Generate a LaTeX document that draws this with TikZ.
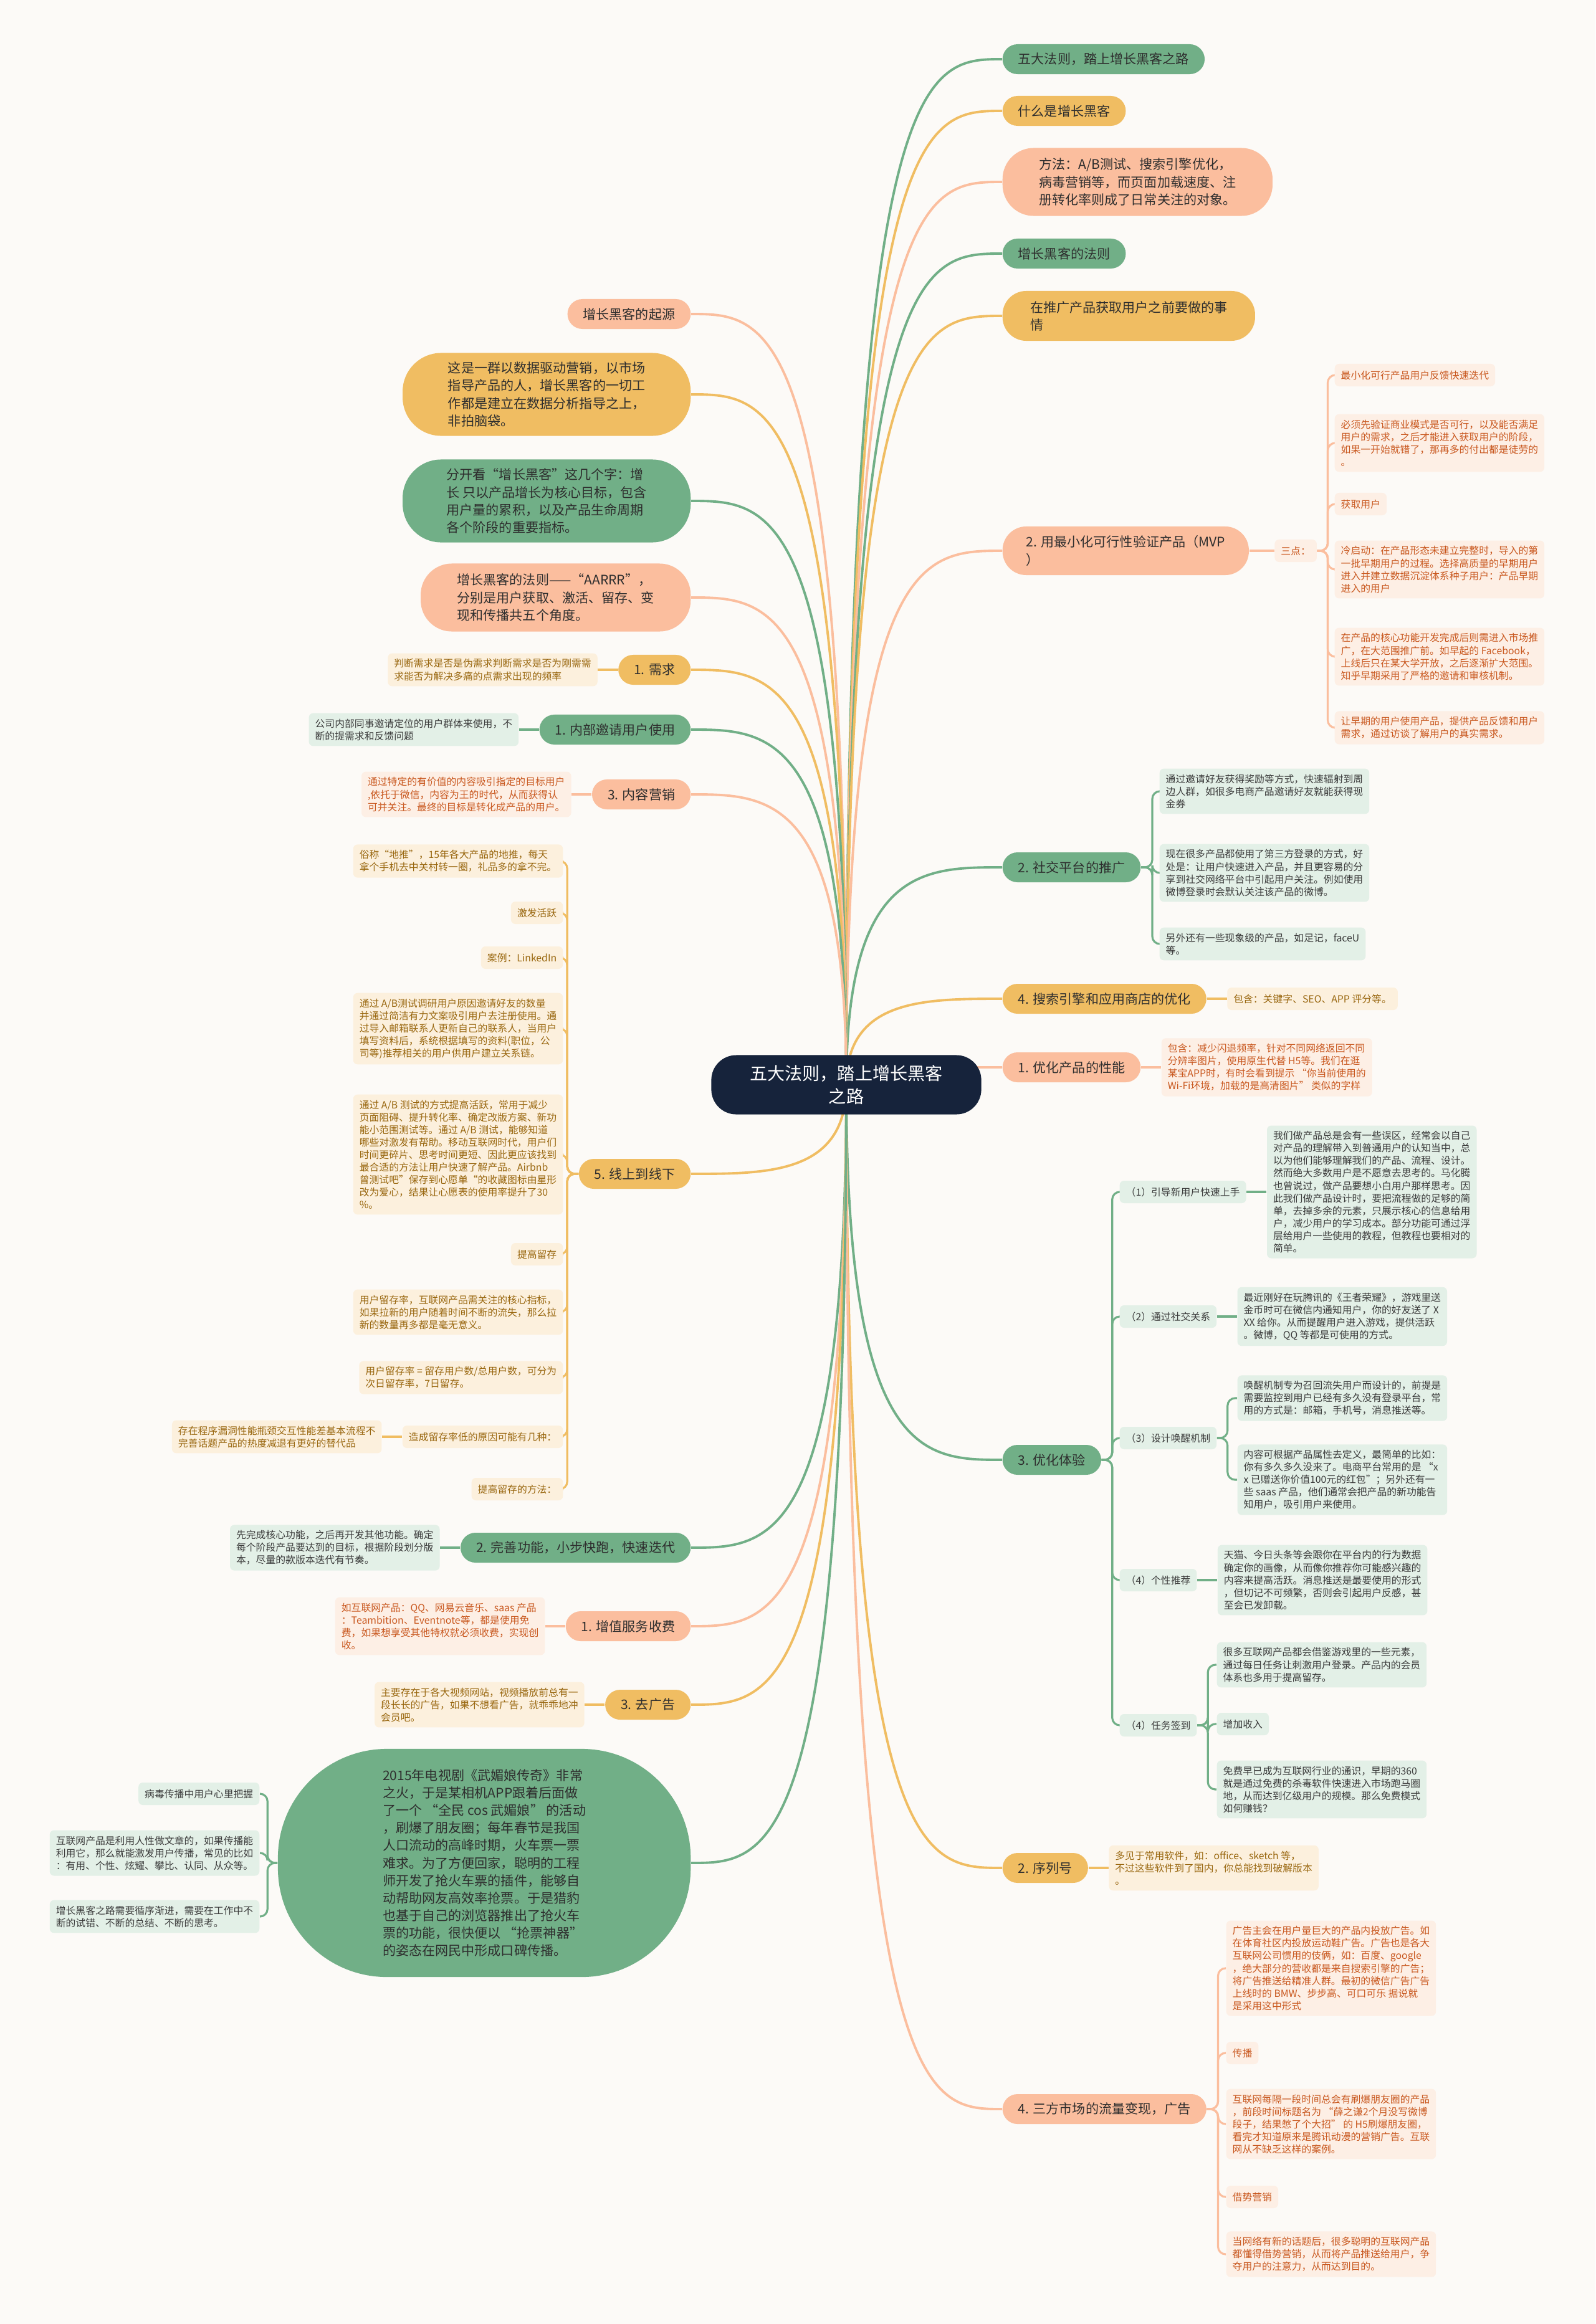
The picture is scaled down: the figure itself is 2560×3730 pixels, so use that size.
\documentclass[tikz,border=0pt]{standalone}
\usepackage{fontspec}
\setmainfont{Noto Sans CJK SC}
\usetikzlibrary{positioning,calc}

\definecolor{bgcol}{HTML}{FCFAF7}
\definecolor{rootcol}{HTML}{16233B}
\definecolor{gfill}{HTML}{71AF87}
\definecolor{yfill}{HTML}{F0BD62}
\definecolor{sfill}{HTML}{FBBE9E}
\definecolor{gsoft}{HTML}{E3F0E7}
\definecolor{ysoft}{HTML}{FCF0DD}
\definecolor{ssoft}{HTML}{FDEFE5}
\definecolor{gink}{HTML}{3B3B3B}
\definecolor{yink}{HTML}{99670F}
\definecolor{sink}{HTML}{C9581F}
\definecolor{darkink}{HTML}{2E2E2E}

\pgfdeclarelayer{background}
\pgfsetlayers{background,main}

\tikzset{
    rootbox/.style={
           fill=rootcol, text=white,
           rounded corners=0.4cm,
           minimum width=4.33cm, minimum height=0.95cm,
           align=center,
           font=\fontsize{8}{10.5}\selectfont
           },
    topic/.style={
           text=darkink,
           inner xsep=0.25cm, inner ysep=0.1cm,
           minimum height=0.48cm,
           rounded corners=0.24cm,
           align=left,
           font=\fontsize{6}{8}\selectfont
           },
    gtopic/.style={topic, fill=gfill},
    ytopic/.style={topic, fill=yfill},
    stopic/.style={topic, fill=sfill},
    leaf/.style={
           inner xsep=0.1cm, inner ysep=0.09cm,
           minimum height=0.36cm,
           rounded corners=0.07cm,
           align=left,
           font=\fontsize{4.5}{5.7}\selectfont
           },
    gleaf/.style={leaf, fill=gsoft, text=gink},
    yleaf/.style={leaf, fill=ysoft, text=yink},
    sleaf/.style={leaf, fill=ssoft, text=sink},
    gline/.style={draw=gfill, line width=1.1pt},
    yline/.style={draw=yfill, line width=1.1pt},
    sline/.style={draw=sfill, line width=1.1pt},
    twig/.style={line width=0.9pt, rounded corners=0.12cm}
}

\begin{document}
\begin{tikzpicture}[x=0.01cm, y=-0.01cm, node distance=0.32cm]
\useasboundingbox (0,0) rectangle (2560,3730);
\begin{pgfonlayer}{background}
\fill[bgcol] (0,0) rectangle (2560,3730);
\end{pgfonlayer}

\node[rootbox] (root) at (1358,1741) {五大法则，踏上增长黑客\\之路};
\coordinate (hub) at (root.center);

% right side
\node[gtopic, anchor=west] (r1) at (1608,95) {五大法则，踏上增长黑客之路};
\node[ytopic, anchor=west] (r2) at (1608,178) {什么是增长黑客};
\node[stopic, anchor=west, minimum width=4.33cm, minimum height=1.09cm, rounded corners=0.5cm] (r3) at (1608,292) {方法：A/B测试、搜索引擎优化，\\病毒营销等，而页面加载速度、注\\册转化率则成了日常关注的对象。};
\node[gtopic, anchor=west] (r4) at (1608,407) {增长黑客的法则};
\node[ytopic, anchor=west, minimum width=4.05cm, minimum height=0.8cm, rounded corners=0.38cm] (r5) at (1608,507) {在推广产品获取用户之前要做的事\\情};
\node[stopic, anchor=west, minimum width=3.95cm, minimum height=0.78cm, rounded corners=0.38cm] (r6) at (1608,884) {2. 用最小化可行性验证产品（MVP\\）};
\node[sleaf, right=0.4cm of r6] (r6k) {三点：};
\node[sleaf, anchor=west] (r6a) at (2141,602) {最小化可行产品用户反馈快速迭代};
\node[sleaf, anchor=west] (r6b) at (2141,711) {必须先验证商业模式是否可行，以及能否满足\\用户的需求，之后才能进入获取用户的阶段，\\如果一开始就错了，那再多的付出都是徒劳的\\。};
\node[sleaf, anchor=west] (r6c) at (2141,809) {获取用户};
\node[sleaf, anchor=west] (r6d) at (2141,914) {冷启动：在产品形态未建立完整时，导入的第\\一批早期用户的过程。选择高质量的早期用户\\进入并建立数据沉淀体系种子用户：产品早期\\进入的用户};
\node[sleaf, anchor=west] (r6e) at (2141,1054) {在产品的核心功能开发完成后则需进入市场推\\广，在大范围推广前。如早起的 Facebook，\\上线后只在某大学开放，之后逐渐扩大范围。\\知乎早期采用了严格的邀请和审核机制。};
\node[sleaf, anchor=west] (r6f) at (2141,1168) {让早期的用户使用产品，提供产品反馈和用户\\需求，通过访谈了解用户的真实需求。};

\node[gtopic, anchor=west] (r7) at (1608,1392) {2. 社交平台的推广};
\node[gleaf, anchor=west] (r7a) at (1860,1270) {通过邀请好友获得奖励等方式，快速辐射到周\\边人群，如很多电商产品邀请好友就能获得现\\金券};
\node[gleaf, anchor=west] (r7b) at (1860,1401) {现在很多产品都使用了第三方登录的方式，好\\处是：让用户快速进入产品，并且更容易的分\\享到社交网络平台中引起用户关注。例如使用\\微博登录时会默认关注该产品的微博。};
\node[gleaf, anchor=west] (r7c) at (1860,1515) {另外还有一些现象级的产品，如足记，faceU\\等。};

\node[ytopic, anchor=west] (r8) at (1608,1603) {4. 搜索引擎和应用商店的优化};
\node[yleaf, right=of r8] (r8a) {包含：关键字、SEO、APP 评分等。};

\node[stopic, anchor=west] (r9) at (1608,1713) {1. 优化产品的性能};
\node[sleaf, right=of r9] (r9a) {包含：减少闪退频率，针对不同网络返回不同\\分辨率图片，使用原生代替 H5等。我们在逛\\某宝APP时，有时会看到提示 “你当前使用的\\Wi-Fi环境，加载的是高清图片” 类似的字样};

\node[gtopic, anchor=west] (r10) at (1608,2343) {3. 优化体验};
\node[gleaf, anchor=west] (r10a) at (1796,1913) {（1）引导新用户快速上手};
\node[gleaf, right=of r10a] (r10aa) {我们做产品总是会有一些误区，经常会以自己\\对产品的理解带入到普通用户的认知当中，总\\以为他们能够理解我们的产品、流程、设计。\\然而绝大多数用户是不愿意去思考的。马化腾\\也曾说过，做产品要想小白用户那样思考。因\\此我们做产品设计时，要把流程做的足够的简\\单，去掉多余的元素，只展示核心的信息给用\\户，减少用户的学习成本。部分功能可通过浮\\层给用户一些使用的教程，但教程也要相对的\\简单。};
\node[gleaf, anchor=west] (r10b) at (1796,2113) {（2）通过社交关系};
\node[gleaf, right=of r10b] (r10ba) {最近刚好在玩腾讯的《王者荣耀》，游戏里送\\金币时可在微信内通知用户，你的好友送了 X\\XX 给你。从而提醒用户进入游戏，提供活跃\\。微博，QQ 等都是可使用的方式。};
\node[gleaf, anchor=west] (r10c) at (1796,2308) {（3）设计唤醒机制};
\node[gleaf, anchor=west] (r10ca) at (1985,2244) {唤醒机制专为召回流失用户而设计的，前提是\\需要监控到用户已经有多久没有登录平台，常\\用的方式是：邮箱，手机号，消息推送等。};
\node[gleaf, anchor=west] (r10cb) at (1985,2375) {内容可根据产品属性去定义，最简单的比如：\\你有多久多久没来了。电商平台常用的是 “x\\x 已赠送你价值100元的红包”；另外还有一\\些 saas 产品，他们通常会把产品的新功能告\\知用户，吸引用户来使用。};
\node[gleaf, anchor=west] (r10d) at (1796,2536) {（4）个性推荐};
\node[gleaf, right=of r10d] (r10da) {天猫、今日头条等会跟你在平台内的行为数据\\确定你的画像，从而像你推荐你可能感兴趣的\\内容来提高活跃。消息推送是最要使用的形式\\，但切记不可频繁，否则会引起用户反感，甚\\至会已发卸载。};
\node[gleaf, anchor=west] (r10e) at (1796,2769) {（4）任务签到};
\node[gleaf, anchor=west] (r10ea) at (1952,2672) {很多互联网产品都会借鉴游戏里的一些元素，\\通过每日任务让刺激用户登录。产品内的会员\\体系也多用于提高留存。};
\node[gleaf, anchor=west] (r10eb) at (1952,2767) {增加收入};
\node[gleaf, anchor=west] (r10ec) at (1952,2872) {免费早已成为互联网行业的通识，早期的360\\就是通过免费的杀毒软件快速进入市场跑马圈\\地，从而达到亿级用户的规模。那么免费模式\\如何赚钱？};

\node[ytopic, anchor=west] (r11) at (1608,2998) {2. 序列号};
\node[yleaf, right=of r11] (r11a) {多见于常用软件，如：office、sketch 等，\\不过这些软件到了国内，你总能找到破解版本\\。};

\node[stopic, anchor=west] (r12) at (1608,3385) {4. 三方市场的流量变现，广告};
\node[sleaf, anchor=west] (r12a) at (1967,3159) {广告主会在用户量巨大的产品内投放广告。如\\在体育社区内投放运动鞋广告。广告也是各大\\互联网公司惯用的伎俩，如：百度、google\\，绝大部分的营收都是来自搜索引擎的广告；\\将广告推送给精准人群。最初的微信广告广告\\上线时的 BMW、步步高、可口可乐 据说就\\是采用这中形式};
\node[sleaf, anchor=west] (r12b) at (1967,3295) {传播};
\node[sleaf, anchor=west] (r12c) at (1967,3409) {互联网每隔一段时间总会有刷爆朋友圈的产品\\，前段时间标题名为 “薛之谦2个月没写微博\\段子，结果憋了个大招” 的 H5刷爆朋友圈，\\看完才知道原来是腾讯动漫的营销广告。互联\\网从不缺乏这样的案例。};
\node[sleaf, anchor=west] (r12d) at (1967,3526) {借势营销};
\node[sleaf, anchor=west] (r12e) at (1967,3618) {当网络有新的话题后，很多聪明的互联网产品\\都懂得借势营销，从而将产品推送给用户，争\\夺用户的注意力，从而达到目的。};

% left side
\node[stopic, anchor=east] (l1) at (1109,504) {增长黑客的起源};
\node[ytopic, anchor=east, minimum width=4.62cm, minimum height=1.33cm, rounded corners=0.62cm] (l2) at (1109,633) {这是一群以数据驱动营销，以市场\\指导产品的人，增长黑客的一切工\\作都是建立在数据分析指导之上，\\非拍脑袋。};
\node[gtopic, anchor=east, minimum width=4.62cm, minimum height=1.33cm, rounded corners=0.62cm] (l3) at (1109,804) {分开看“增长黑客”这几个字：增\\长 只以产品增长为核心目标，包含\\用户量的累积，以及产品生命周期\\各个阶段的重要指标。};
\node[stopic, anchor=east, minimum width=4.33cm, minimum height=1.09cm, rounded corners=0.5cm] (l4) at (1109,959) {增长黑客的法则——“AARRR”，\\分别是用户获取、激活、留存、变\\现和传播共五个角度。};

\node[ytopic, anchor=east] (l5) at (1109,1075) {1. 需求};
\node[yleaf, left=of l5] (l5a) {判断需求是否是伪需求判断需求是否为刚需需\\求能否为解决多痛的点需求出现的频率};
\node[gtopic, anchor=east] (l6) at (1109,1171) {1. 内部邀请用户使用};
\node[gleaf, left=of l6] (l6a) {公司内部同事邀请定位的用户群体来使用，不\\断的提需求和反馈问题};
\node[stopic, anchor=east] (l7) at (1109,1275) {3. 内容营销};
\node[sleaf, left=of l7] (l7a) {通过特定的有价值的内容吸引指定的目标用户\\,依托于微信，内容为王的时代，从而获得认\\可并关注。最终的目标是转化成产品的用户。};

\node[ytopic, anchor=east] (l8) at (1109,1884) {5. 线上到线下};
\node[yleaf, anchor=east] (l8a) at (904,1382) {俗称“地推”，15年各大产品的地推，每天\\拿个手机去中关村转一圈，礼品多的拿不完。};
\node[yleaf, anchor=east] (l8b) at (904,1465) {激发活跃};
\node[yleaf, anchor=east] (l8c) at (904,1537) {案例：LinkedIn};
\node[yleaf, anchor=east] (l8d) at (904,1651) {通过 A/B测试调研用户原因邀请好友的数量\\并通过简洁有力文案吸引用户去注册使用。通\\过导入邮箱联系人更新自己的联系人，当用户\\填写资料后，系统根据填写的资料(职位，公\\司等)推荐相关的用户供用户建立关系链。};
\node[yleaf, anchor=east] (l8e) at (904,1853) {通过 A/B 测试的方式提高活跃，常用于减少\\页面阻碍、提升转化率、确定改版方案、新功\\能小范围测试等。通过 A/B 测试，能够知道\\哪些对激发有帮助。移动互联网时代，用户们\\时间更碎片、思考时间更短、因此更应该找到\\最合适的方法让用户快速了解产品。Airbnb\\曾测试吧”保存到心愿单“的收藏图标由星形\\改为爱心，结果让心愿表的使用率提升了30\\\%。};
\node[yleaf, anchor=east] (l8f) at (904,2013) {提高留存};
\node[yleaf, anchor=east] (l8g) at (904,2106) {用户留存率，互联网产品需关注的核心指标，\\如果拉新的用户随着时间不断的流失，那么拉\\新的数量再多都是毫无意义。};
\node[yleaf, anchor=east] (l8h) at (904,2211) {用户留存率 = 留存用户数/总用户数，可分为\\次日留存率，7日留存。};
\node[yleaf, anchor=east] (l8i) at (904,2306) {造成留存率低的原因可能有几种：};
\node[yleaf, left=of l8i] (l8ia) {存在程序漏洞性能瓶颈交互性能差基本流程不\\完善话题产品的热度减退有更好的替代品};
\node[yleaf, anchor=east] (l8j) at (904,2390) {提高留存的方法：};

\node[gtopic, anchor=east] (l9) at (1109,2484) {2. 完善功能，小步快跑，快速迭代};
\node[gleaf, left=of l9] (l9a) {先完成核心功能，之后再开发其他功能。确定\\每个阶段产品要达到的目标，根据阶段划分版\\本，尽量的款版本迭代有节奏。};
\node[stopic, anchor=east] (l10) at (1109,2610) {1. 增值服务收费};
\node[sleaf, left=of l10] (l10a) {如互联网产品：QQ、网易云音乐、saas 产品\\：Teambition、Eventnote等，都是使用免\\费，如果想享受其他特权就必须收费，实现创\\收。};
\node[ytopic, anchor=east] (l11) at (1109,2736) {3. 去广告};
\node[yleaf, left=of l11] (l11a) {主要存在于各大视频网站，视频播放前总有一\\段长长的广告，如果不想看广告，就乖乖地冲\\会员吧。};

\node[gtopic, anchor=east, minimum width=6.62cm, minimum height=3.66cm, rounded corners=1.75cm] (l12) at (1109,2990) {2015年电视剧《武媚娘传奇》非常\\之火，于是某相机APP跟着后面做\\了一个 “全民 cos 武媚娘” 的活动\\，刷爆了朋友圈；每年春节是我国\\人口流动的高峰时期，火车票一票\\难求。为了方便回家，聪明的工程\\师开发了抢火车票的插件，能够自\\动帮助网友高效率抢票。于是猎豹\\也基于自己的浏览器推出了抢火车\\票的功能，很快便以 “抢票神器”\\的姿态在网民中形成口碑传播。};
\node[gleaf, anchor=east] (l12a) at (417,2879) {病毒传播中用户心里把握};
\node[gleaf, anchor=east] (l12b) at (417,2974) {互联网产品是利用人性做文章的，如果传播能\\利用它，那么就能激发用户传播，常见的比如\\：有用、个性、炫耀、攀比、认同、从众等。};
\node[gleaf, anchor=east] (l12c) at (417,3076) {增长黑客之路需要循序渐进，需要在工作中不\\断的试错、不断的总结、不断的思考。};

\begin{pgfonlayer}{background}
% main branches
\foreach \n/\s in {r1/gline, r2/yline, r3/sline, r4/gline, r5/yline, r6/sline, r7/gline, r8/yline, r9/sline, r10/gline, r11/yline, r12/sline}
  \draw[\s] (hub) .. controls (hub |- \n.west) and ($(hub |- \n.west)!0.5!(\n.west)$) .. (\n.west);
\foreach \n/\s in {l1/sline, l2/yline, l3/gline, l4/sline, l5/yline, l6/gline, l7/sline, l8/yline, l9/gline, l10/sline, l11/yline, l12/gline}
  \draw[\s] (hub) .. controls (hub |- \n.east) and ($(hub |- \n.east)!0.5!(\n.east)$) .. (\n.east);

% single children
\foreach \a/\b/\s in {r6/r6k/sline, r8/r8a/yline, r9/r9a/sline, r11/r11a/yline, r10a/r10aa/gline, r10b/r10ba/gline, r10d/r10da/gline}
  \draw[\s, twig] (\a.east) -- (\b.west);
\foreach \a/\b/\s in {l5/l5a/yline, l6/l6a/gline, l7/l7a/sline, l9/l9a/gline, l10/l10a/sline, l11/l11a/yline, l8i/l8ia/yline}
  \draw[\s, twig] (\a.west) -- (\b.east);

% forks
\foreach \c in {r6a, r6b, r6c, r6d, r6e, r6f}
  \draw[sline, twig] (r6k.east) -- ++(17,0) |- (\c.west);
\foreach \c in {r7a, r7b, r7c}
  \draw[gline, twig] (r7.east) -- ++(18,0) |- (\c.west);
\foreach \c in {r10a, r10b, r10c, r10d, r10e}
  \draw[gline, twig] (r10.east) -- ++(17,0) |- (\c.west);
\foreach \c in {r10ca, r10cb}
  \draw[gline, twig] (r10c.east) -- ++(17,0) |- (\c.west);
\foreach \c in {r10ea, r10eb, r10ec}
  \draw[gline, twig] (r10e.east) -- ++(17,0) |- (\c.west);
\foreach \c in {r12a, r12b, r12c, r12d, r12e}
  \draw[sline, twig] (r12.east) -- ++(18,0) |- (\c.west);
\foreach \c in {l8a, l8b, l8c, l8d, l8e, l8f, l8g, l8h, l8i, l8j}
  \draw[yline, twig] (l8.west) -- ++(-18,0) |- (\c.east);
\foreach \c in {l12a, l12b, l12c}
  \draw[gline, twig] (l12.west) -- ++(-16,0) |- (\c.east);
\end{pgfonlayer}
\end{tikzpicture}
\end{document}
